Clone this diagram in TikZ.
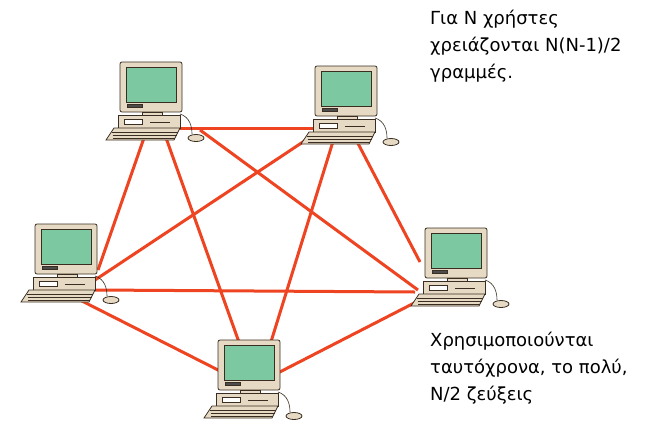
\documentclass[tikz,border=0pt]{standalone}
\usepackage{fontspec}
\setmainfont{DejaVu Sans}
\definecolor{link}{HTML}{EE4422}
\definecolor{beige}{HTML}{E6DAC4}
\definecolor{scr}{HTML}{7CC8A0}
\definecolor{edge}{HTML}{3A2E22}
\tikzset{
  link/.style={draw=link,line width=3pt},
  body/.style={draw=edge,fill=beige,line width=0.8pt},
  note/.style={anchor=north west,align=left,font=\fontsize{18}{27}\selectfont,inner sep=0pt},
  computer/.pic={
    \draw[body,rounded corners=2pt] (0,0) rectangle (62,50);
    \draw[draw=edge,fill=scr,line width=0.6pt] (6,5) rectangle (56,40);
    \draw[draw=edge,fill=black!70] (7,42) rectangle (22,45);
    \draw[body] (22,50) rectangle (42,53);
    \draw[body] (-2,53) rectangle (60,66);
    \draw[draw=edge,fill=white] (4,57) rectangle (22,62);
    \draw[edge] (30,60) -- (50,60);
    \draw[body] (-6,66) -- (60,66) -- (54,78) -- (-14,78) -- cycle;
    \foreach \i in {0,1,2} \draw[edge,line width=0.3pt] (-8+\i*0.5,70+\i*3) -- (58-\i*1.5,70+\i*3);
    \draw[edge,line width=0.6pt] (60,52) .. controls (70,55) and (72,65) .. (72,72);
    \draw[body] (76,76) ellipse (8 and 3.5);
  }
}
\begin{document}
\begin{tikzpicture}[x=1pt,y=-1pt]
\useasboundingbox (0,0) rectangle (672,429);
\fill[white] (0,0) rectangle (672,429);
\draw[link] (170,128) -- (320,128);
\draw[link] (145,135) -- (98,270);
\draw[link] (200,130) -- (418,290);
\draw[link] (165,135) -- (240,345);
\draw[link] (318,132) -- (95,280);
\draw[link] (352,132) -- (420,262);
\draw[link] (335,135) -- (270,345);
\draw[link] (95,290) -- (415,292);
\draw[link] (80,300) -- (222,372);
\draw[link] (420,300) -- (272,376);
\pic (c1) at (120,62) {computer};
\pic (c2) at (315,66) {computer};
\pic (c3) at (35,224) {computer};
\pic (c4) at (425,228) {computer};
\pic (c5) at (218,340) {computer};
\node[note] (t1) at (430,10) {Για Ν χρήστες\\χρειάζονται Ν(Ν-1)/2\\γραμμές.};
\node[note] (t2) at (430,332) {Χρησιμοποιούνται\\ταυτόχρονα, το πολύ,\\Ν/2 ζεύξεις};
\end{tikzpicture}
\end{document}
